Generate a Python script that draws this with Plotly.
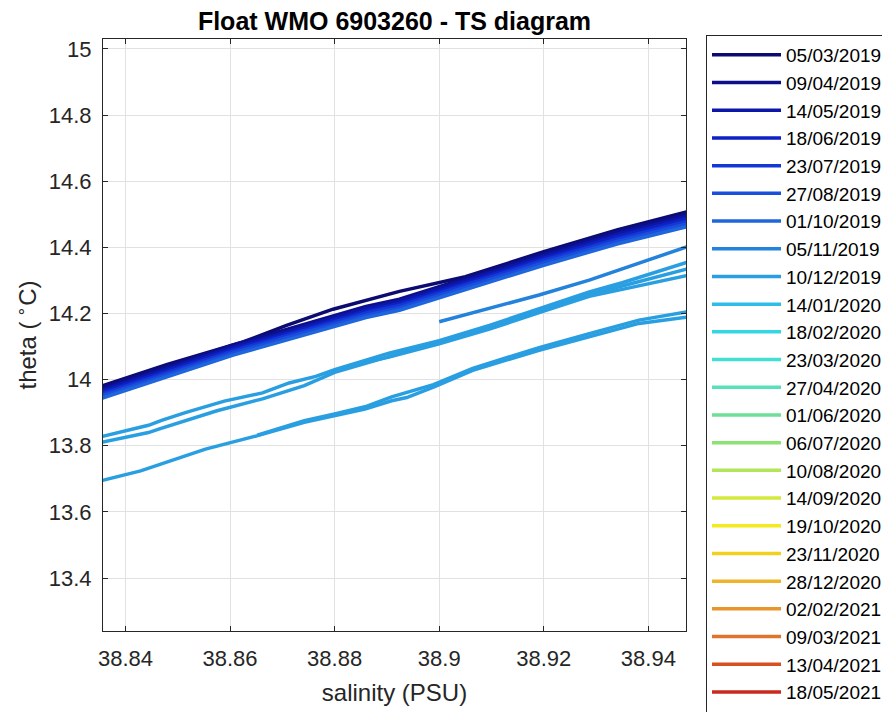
import plotly.graph_objects as go

# ---------------- data ----------------
dates = ["05/03/2019", "09/04/2019", "14/05/2019", "18/06/2019", "23/07/2019",
         "27/08/2019", "01/10/2019", "05/11/2019", "10/12/2019", "14/01/2020",
         "18/02/2020", "23/03/2020", "27/04/2020", "01/06/2020", "06/07/2020",
         "10/08/2020", "14/09/2020", "19/10/2020", "23/11/2020", "28/12/2020",
         "02/02/2021", "09/03/2021", "13/04/2021", "18/05/2021", "22/06/2021"]

colors = ["#0b0b70", "#0c0f88", "#0c16a8", "#0e22c4", "#1438d6",
          "#1a4edc", "#1f66dc", "#2382db", "#299fe2", "#2dbde8",
          "#34d6e4", "#42dfd2", "#58dfbb", "#6edf98", "#8ee173",
          "#b2e65a", "#d3ea3d", "#f3ea1f", "#f2d11e", "#eeb52a",
          "#e8952b", "#e0742a", "#d84f22", "#c92a1e", "#a81a14"]

# profile 1 (05/03/2019)
sal_p1 = [38.835, 38.848, 38.8625, 38.8708, 38.8797, 38.886, 38.8924, 38.905, 38.92, 38.934, 38.948]
th_p1 = [13.978, 14.046, 14.114, 14.164, 14.213, 14.241, 14.267, 14.311, 14.387, 14.453, 14.510]

# profiles 2..7 share the same salinity sampling
sal_band = [38.835, 38.848, 38.8606, 38.8733, 38.886, 38.8924, 38.905, 38.92, 38.934, 38.948]
th_p2 = [13.972, 14.040, 14.105, 14.163, 14.221, 14.243, 14.306, 14.381, 14.447, 14.503]
th_p3 = [13.966, 14.034, 14.099, 14.156, 14.215, 14.237, 14.299, 14.374, 14.440, 14.496]
th_p4 = [13.960, 14.028, 14.093, 14.150, 14.208, 14.230, 14.292, 14.367, 14.433, 14.489]
th_p5 = [13.954, 14.022, 14.087, 14.144, 14.202, 14.224, 14.286, 14.361, 14.425, 14.481]
th_p6 = [13.948, 14.016, 14.081, 14.138, 14.195, 14.217, 14.279, 14.354, 14.418, 14.474]
th_p7 = [13.941, 14.009, 14.074, 14.131, 14.188, 14.210, 14.271, 14.346, 14.410, 14.465]

# profile 8 (05/11/2019)
sal_p8 = [38.9, 38.9096, 38.9191, 38.9287, 38.9382, 38.948]
th_p8 = [14.175, 14.215, 14.256, 14.301, 14.352, 14.405]

# profile 9 (10/12/2019) - several segments inside the window
sal_p9a = [38.835, 38.8444, 38.8469, 38.8516, 38.8589, 38.8662, 38.8713, 38.8764, 38.88,
           38.8904, 38.9, 38.9096, 38.92, 38.9287, 38.935, 38.948]
th_p9a = [13.826, 13.862, 13.877, 13.901, 13.935, 13.960, 13.990, 14.010, 14.030,
          14.080, 14.118, 14.164, 14.219, 14.265, 14.293, 14.358]
sal_p9b = [38.835, 38.8444, 38.8465, 38.8516, 38.8575, 38.8662, 38.8742, 38.88, 38.8904,
           38.9, 38.9096, 38.92, 38.9287, 38.935, 38.948]
th_p9b = [13.809, 13.840, 13.851, 13.876, 13.906, 13.942, 13.982, 14.022, 14.070,
          14.112, 14.158, 14.212, 14.257, 14.283, 14.337]
sal_p9c = [38.885, 38.8904, 38.9, 38.9096, 38.92, 38.9287, 38.935, 38.948]
th_p9c = [14.050, 14.068, 14.108, 14.153, 14.207, 14.252, 14.273, 14.317]
sal_p9d = [38.835, 38.8429, 38.8553, 38.8651, 38.8742, 38.88, 38.8858, 38.8909, 38.8938,
           38.8989, 38.9025, 38.9064, 38.9191, 38.9287, 38.9382, 38.948]
th_p9d = [13.693, 13.724, 13.790, 13.830, 13.871, 13.891, 13.911, 13.936, 13.946,
          13.977, 14.002, 14.028, 14.089, 14.129, 14.170, 14.190]
sal_p9e = [38.8652, 38.8742, 38.88, 38.8858, 38.8909, 38.8938, 38.8989, 38.9064, 38.9191,
           38.9287, 38.9382, 38.948]
th_p9e = [13.832, 13.876, 13.896, 13.918, 13.948, 13.962, 13.985, 14.034, 14.097,
          14.139, 14.180, 14.207]

x_tickvals = [38.84, 38.86, 38.88, 38.90, 38.92, 38.94]
x_ticktext = ["38.84", "38.86", "38.88", "38.9", "38.92", "38.94"]
y_tickvals = [13.4, 13.6, 13.8, 14.0, 14.2, 14.4, 14.6, 14.8, 15.0]
y_ticktext = ["13.4", "13.6", "13.8", "14", "14.2", "14.4", "14.6", "14.8", "15"]
x_range = [38.8357, 38.9472]
y_range = [13.24, 15.03]


def join(*segs):
    xs, ys = [], []
    for sx, sy in segs:
        if xs:
            xs.append(None)
            ys.append(None)
        xs.extend(sx)
        ys.extend(sy)
    return xs, ys


profiles = {
    0: join((sal_p1, th_p1)),
    1: join((sal_band, th_p2)),
    2: join((sal_band, th_p3)),
    3: join((sal_band, th_p4)),
    4: join((sal_band, th_p5)),
    5: join((sal_band, th_p6)),
    6: join((sal_band, th_p7)),
    7: join((sal_p8, th_p8)),
    8: join((sal_p9a, th_p9a), (sal_p9b, th_p9b), (sal_p9c, th_p9c),
            (sal_p9d, th_p9d), (sal_p9e, th_p9e)),
}

FONT = "Liberation Sans, Arial, Helvetica, sans-serif"
# the page body adds an 8 px offset, so the figure is 8 px smaller than the window
OFF = 8
W, H = 890 - OFF, 712 - OFF

fig = go.Figure()
for i in range(len(dates)):
    # profiles outside the shown salinity window carry no visible point
    xs, ys = profiles.get(i, ([None], [None]))
    fig.add_trace(go.Scatter(
        x=xs, y=ys, mode="lines", name=dates[i],
        line=dict(color=colors[i], width=3.5),
        connectgaps=False, showlegend=True,
    ))

axis_common = dict(
    showline=True, linecolor="#262626", linewidth=1, mirror="allticks",
    ticks="inside", ticklen=5, tickcolor="#262626", tickwidth=1,
    showgrid=True, gridcolor="#e1e1e1", gridwidth=1, zeroline=False,
    tickfont=dict(family=FONT, size=22, color="#262626"),
)

fig.update_layout(
    width=W, height=H,
    paper_bgcolor="white", plot_bgcolor="white",
    margin=dict(l=103 - OFF, r=W - (686 - OFF), t=39 - OFF, b=H - (631 - OFF),
                autoexpand=False),
    title=dict(text="<b>Float WMO 6903260 - TS diagram</b>",
               font=dict(family=FONT, size=25, color="black"),
               x=0.5, xref="paper", xanchor="center",
               y=1 - (21 - OFF) / H, yref="container", yanchor="middle"),
    xaxis=dict(range=x_range, tickvals=x_tickvals, ticktext=x_ticktext,
               ticklabelstandoff=8,
               title=dict(text="salinity (PSU)", standoff=13,
                          font=dict(family=FONT, size=24, color="#262626")),
               **axis_common),
    yaxis=dict(range=y_range, tickvals=y_tickvals, ticktext=y_ticktext,
               ticklabelstandoff=6,
               title=dict(text="theta (<sup> ∘</sup>C)", standoff=5,
                          font=dict(family=FONT, size=24, color="#262626")),
               **axis_common),
    legend=dict(
        xref="container", yref="container",
        x=(706 - OFF) / W, xanchor="left", y=1 - (35 - OFF) / H, yanchor="top",
        bgcolor="white", bordercolor="#262626", borderwidth=1,
        font=dict(family=FONT, size=19, color="black"),
        itemwidth=69, maxheight=2000, tracegroupgap=0,
    ),
    showlegend=True,
)

fig.write_html("out.html")
